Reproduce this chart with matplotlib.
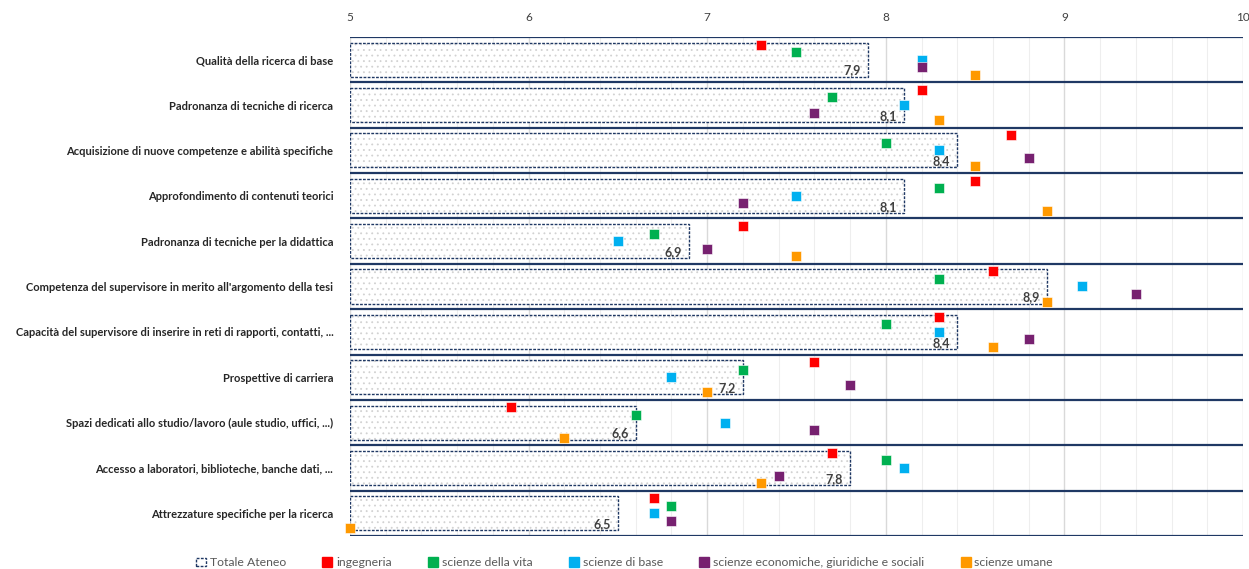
import matplotlib
matplotlib.use('Agg')
import matplotlib.pyplot as plt
from matplotlib.patches import Patch
from matplotlib.lines import Line2D
import numpy as np

plt.rcParams['font.family'] = ['Lato', 'DejaVu Sans']
plt.rcParams['hatch.linewidth'] = 0.6

categories = [
    'Qualità della ricerca di base',
    'Padronanza di tecniche di ricerca',
    'Acquisizione di nuove competenze e abilità specifiche',
    'Approfondimento di contenuti teorici',
    'Padronanza di tecniche per la didattica',
    "Competenza del supervisore in merito all'argomento della tesi",
    'Capacità del supervisore di inserire in reti di rapporti, contatti, ...',
    'Prospettive di carriera',
    'Spazi dedicati allo studio/lavoro (aule studio, uffici, ...)',
    'Accesso a laboratori, biblioteche, banche dati, ...',
    'Attrezzature specifiche per la ricerca',
]

totale = [7.9, 8.1, 8.4, 8.1, 6.9, 8.9, 8.4, 7.2, 6.6, 7.8, 6.5]
ingegneria = [7.3, 8.2, 8.7, 8.5, 7.2, 8.6, 8.3, 7.6, 5.9, 7.7, 6.7]
scienze_vita = [7.5, 7.7, 8.0, 8.3, 6.7, 8.3, 8.0, 7.2, 6.6, 8.0, 6.8]
scienze_base = [8.2, 8.1, 8.3, 7.5, 6.5, 9.1, 8.3, 6.8, 7.1, 8.1, 6.7]
scienze_econ = [8.2, 7.6, 8.8, 7.2, 7.0, 9.4, 8.8, 7.8, 7.6, 7.4, 6.8]
scienze_umane = [8.5, 8.3, 8.5, 8.9, 7.5, 8.9, 8.6, 7.0, 6.2, 7.3, 5.0]

series = [
    ('ingegneria', ingegneria, '#FF0000'),
    ('scienze della vita', scienze_vita, '#00B050'),
    ('scienze di base', scienze_base, '#00B0F0'),
    ('scienze economiche, giuridiche e sociali', scienze_econ, '#772170'),
    ('scienze umane', scienze_umane, '#FF9900'),
]

navy = '#1F3864'

fig = plt.figure(figsize=(12.49, 5.69), dpi=100)
ax = fig.add_axes([0.2802, 0.058, 0.7150, 0.877])

n = len(categories)
y = np.arange(n) + 0.5
xmin = 5

# bars: dotted fill + dashed outline
ax.barh(y, np.array(totale) - xmin, left=xmin, height=0.75, color='white',
        hatch='...', edgecolor='#D2D2D2', linewidth=0, zorder=2)
ax.barh(y, np.array(totale) - xmin, left=xmin, height=0.75, fill=False,
        edgecolor=navy, linewidth=1.0, linestyle=(0, (2, 1)), zorder=3)

for i, v in enumerate(totale):
    ax.text(v - 0.04, y[i] + 0.24, f'{v:.1f}'.replace('.', ','), ha='right',
            va='center', fontsize=9, fontweight='bold', color='#404040', zorder=4)

for k, (name, vals, col) in enumerate(series):
    ax.plot(vals, np.arange(n) + (k + 1) / 6, linestyle='none', marker='s',
            markersize=7, color=col, markeredgecolor='white', markeredgewidth=0.4,
            zorder=5, clip_on=False)

# category separators
for b in range(n + 1):
    ax.axhline(b, color=navy, linewidth=1.6, zorder=4)

ax.set_xlim(5, 10)
ax.set_ylim(n, 0)
ax.set_xticks(np.arange(5, 11, 1))
ax.set_xticks(np.arange(5, 10.01, 0.2), minor=True)
ax.xaxis.tick_top()
ax.tick_params(axis='x', which='both', length=0, labelsize=8.5, colors='#404040', pad=10)
ax.grid(axis='x', which='major', color='#D9D9D9', linewidth=1.0, zorder=0)
ax.grid(axis='x', which='minor', color='#EEEEEE', linewidth=0.8, zorder=0)
ax.set_axisbelow(True)

ax.set_yticks(y)
ax.set_yticklabels(categories, fontsize=8, fontweight='bold', color='#262626')
ax.tick_params(axis='y', length=0, pad=12)
for s in ax.spines.values():
    s.set_visible(False)

handles = [Patch(facecolor='white', edgecolor=navy, linestyle=(0, (2, 1)), linewidth=1.0,
                 label='Totale Ateneo')]
for name, vals, col in series:
    handles.append(Line2D([], [], linestyle='none', marker='s', markersize=7,
                          color=col, label=name))
fig.legend(handles=handles, loc='lower center', ncol=6, frameon=False,
           bbox_to_anchor=(0.5, -0.018), fontsize=8.8, handlelength=0.8,
           handletextpad=0.3, columnspacing=3.0, labelcolor='#595959')

fig.savefig('out.png', dpi=100)
